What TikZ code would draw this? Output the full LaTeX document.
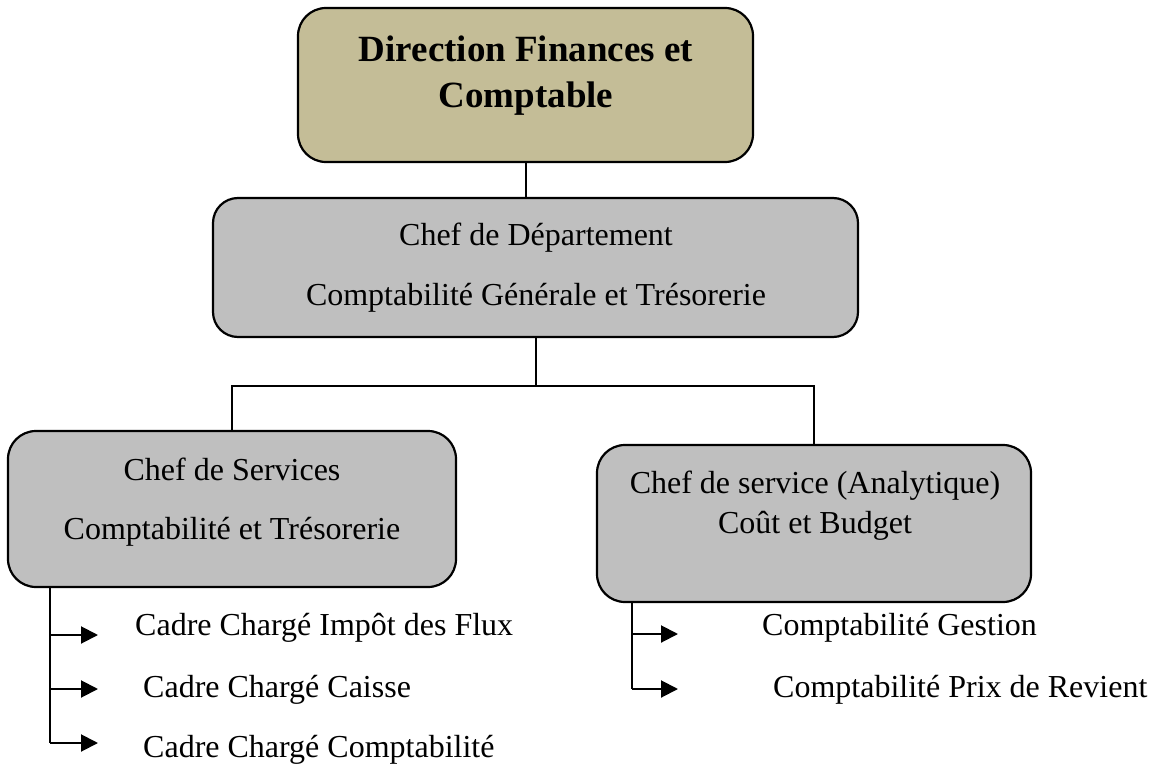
\documentclass[tikz,border=0pt]{standalone}
\usepackage{fontspec}
\setmainfont{Liberation Serif}
\usetikzlibrary{arrows.meta}
\definecolor{tanfill}{HTML}{C4BD97}
\definecolor{greyfill}{HTML}{BFBFBF}
\begin{document}
\begin{tikzpicture}[x=1pt,y=-1pt,
  box/.style={draw=black, line width=2.2pt, rounded corners=28pt, inner sep=0pt},
  title/.style={font=\fontsize{37}{41}\selectfont\bfseries, anchor=base, inner sep=0pt},
  lbl/.style={font=\fontsize{32}{38}\selectfont, anchor=base, inner sep=0pt},
  item/.style={font=\fontsize{32}{38}\selectfont, anchor=base west, inner sep=0pt},
  link/.style={line width=2pt},
  branch/.style={line width=2pt, -{Triangle[length=17pt,width=17pt]}}]
\useasboundingbox (0,0) rectangle (1154,765);
\fill[white] (0,0) rectangle (1154,765);

% boxes
\node[box, fill=tanfill, minimum width=455pt, minimum height=154pt] (b1) at (525.5,85) {};
\node[box, fill=greyfill, minimum width=645pt, minimum height=139pt, rounded corners=25pt] (b2) at (535.5,267.5) {};
\node[box, fill=greyfill, minimum width=448pt, minimum height=156pt] (b3) at (232,509) {};
\node[box, fill=greyfill, minimum width=434pt, minimum height=157pt] (b4) at (814,523.5) {};

% box texts
\node[title] (t1a) at (526,62) {Direction Finances et};
\node[title] (t1b) at (526,108) {Comptable};
\node[lbl] (t2a) at (536,245) {Chef de Département};
\node[lbl] (t2b) at (536,305) {Comptabilité Générale et Trésorerie};
\node[lbl] (t3a) at (232,480) {Chef de Services};
\node[lbl] (t3b) at (232,539) {Comptabilité et Trésorerie};
\node[lbl] (t4a) at (815,493) {Chef de service (Analytique)};
\node[lbl] (t4b) at (815,533) {Coût et Budget};

% hierarchy links
\coordinate (bus) at (0,386);
\draw[link] (b1.south) -- (b1.south |- b2.north);
\draw[link] (b2.south) -- (b2.south |- bus);
\draw[link] (b3.north) |- (b2.south |- bus) -| (b4.north);

% left list
\coordinate (lx) at (50,0);
\coordinate (la1) at (98,635);
\coordinate (la2) at (98,689);
\coordinate (la3) at (98,743);
\draw[link] (b3.south -| lx) -- (la3 -| lx);
\draw[branch] (la1 -| lx) -- (la1);
\draw[branch] (la2 -| lx) -- (la2);
\draw[branch] (la3 -| lx) -- (la3);
\node[item] (i1) at (135,635) {Cadre Chargé Impôt des Flux};
\node[item] (i2) at (143,697) {Cadre Chargé Caisse};
\node[item] (i3) at (143,757) {Cadre Chargé Comptabilité};

% right list
\coordinate (rx) at (632,0);
\coordinate (ra1) at (678,634);
\coordinate (ra2) at (678,689);
\draw[link] (b4.south -| rx) -- (ra2 -| rx);
\draw[branch] (ra1 -| rx) -- (ra1);
\draw[branch] (ra2 -| rx) -- (ra2);
\node[item] (j1) at (762,635) {Comptabilité Gestion};
\node[item] (j2) at (773,697) {Comptabilité Prix de Revient};
\end{tikzpicture}
\end{document}
